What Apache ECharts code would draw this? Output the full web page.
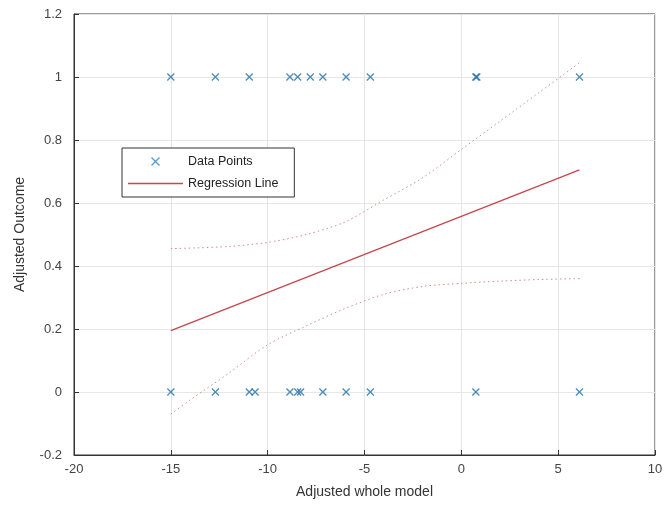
<!DOCTYPE html>
<html>
<head>
<meta charset="utf-8">
<script src="https://cdn.jsdelivr.net/npm/echarts@6/dist/echarts.min.js"></script>
<style>html,body{margin:0;padding:0;background:#fff}#c{width:666px;height:510px}</style>
</head>
<body>
<div id="c"></div>
<script>
// Data
var topX = [-15.0, -12.7, -10.95, -8.85, -8.45, -7.8, -7.15, -5.95, -4.7, 0.75, 0.8, 6.1];
var bottomX = [-15.0, -12.7, -10.95, -10.65, -8.85, -8.45, -8.3, -7.15, -5.95, -4.7, 0.75, 6.1];
var regX = [-15, 6.1];
var regY = [0.195, 0.705];
var upperX = [-15, -12, -10, -8, -6, -4, -2, 0, 2, 4, 6.1];
var upperY = [0.455, 0.462, 0.475, 0.50, 0.54, 0.61, 0.68, 0.77, 0.86, 0.95, 1.045];
var lowerX = [-15, -14, -12, -10, -8, -6, -4, -2, 0, 2, 4, 6.1];
var lowerY = [-0.07, -0.025, 0.06, 0.15, 0.21, 0.265, 0.31, 0.335, 0.345, 0.352, 0.357, 0.36];
var xTicks = {min: -20, max: 10, interval: 5};
var yTicks = {min: -0.2, max: 1.2, interval: 0.2};

function pairs(xs, ys) { return xs.map(function (x, i) { return [x, ys[i]]; }); }
var pts = topX.map(function (x) { return [x, 1]; }).concat(bottomX.map(function (x) { return [x, 0]; }));

var xMark = 'path://M0,0L10,10M10,0L0,10';
var blue = '#1f6fa8';
var red = '#c44a52';
var font = 'Liberation Sans, Arial, sans-serif';

var chart = echarts.init(document.getElementById('c'), null, {renderer: 'canvas'});
chart.setOption({
  animation: false,
  backgroundColor: '#fff',
  grid: {left: 74, right: 11, top: 14, bottom: 55, show: true, borderColor: '#333', borderWidth: 1, backgroundColor: 'transparent'},
  legend: {
    orient: 'vertical', left: 122, top: 148,
    backgroundColor: '#fff', borderColor: '#333', borderWidth: 1,
    padding: [7, 16, 7, 6], itemGap: 9, itemWidth: 55, itemHeight: 8,
    textStyle: {fontFamily: font, fontSize: 12.5, color: '#222'},
    data: [
      {name: 'Data Points', icon: xMark, itemStyle: {color: 'transparent', borderColor: '#2f86c4', borderWidth: 1.4}},
      {name: 'Regression Line', icon: 'path://M0,0L55,0L55,1.5L0,1.5Z', itemStyle: {color: red}}
    ]
  },
  xAxis: {
    type: 'value', min: xTicks.min, max: xTicks.max, interval: xTicks.interval,
    name: 'Adjusted whole model', nameLocation: 'middle', nameGap: 30,
    nameTextStyle: {fontFamily: font, fontSize: 14, color: '#333'},
    axisLine: {onZero: false, lineStyle: {color: '#333'}},
    axisTick: {inside: true, length: 5, lineStyle: {color: '#333'}},
    axisLabel: {fontFamily: font, fontSize: 13, color: '#444', margin: 8},
    splitLine: {show: true, lineStyle: {color: '#e6e6e6'}}
  },
  yAxis: {
    type: 'value', min: yTicks.min, max: yTicks.max, interval: yTicks.interval,
    name: 'Adjusted Outcome', nameLocation: 'middle', nameGap: 47,
    nameTextStyle: {fontFamily: font, fontSize: 14, color: '#333'},
    axisLine: {onZero: false, lineStyle: {color: '#333'}},
    axisTick: {inside: true, length: 5, lineStyle: {color: '#333'}},
    axisLabel: {fontFamily: font, fontSize: 13, color: '#444', margin: 12},
    splitLine: {show: true, lineStyle: {color: '#e6e6e6'}}
  },
  series: [
    {
      name: 'Data Points', type: 'scatter', data: pts, symbol: xMark, symbolSize: 7,
      itemStyle: {color: 'transparent', borderColor: blue, borderWidth: 1.3}, z: 5
    },
    {
      name: 'Regression Line', type: 'line', data: pairs(regX, regY), showSymbol: false,
      lineStyle: {color: red, width: 1.5}, itemStyle: {color: red}
    },
    {
      name: 'upper', type: 'line', data: pairs(upperX, upperY), showSymbol: false, smooth: 0.3,
      lineStyle: {color: '#d98a8f', width: 1, type: [1.5, 3]}
    },
    {
      name: 'lower', type: 'line', data: pairs(lowerX, lowerY), showSymbol: false, smooth: 0.3,
      lineStyle: {color: '#d98a8f', width: 1, type: [1.5, 3]}
    }
  ]
});
</script>
</body>
</html>
